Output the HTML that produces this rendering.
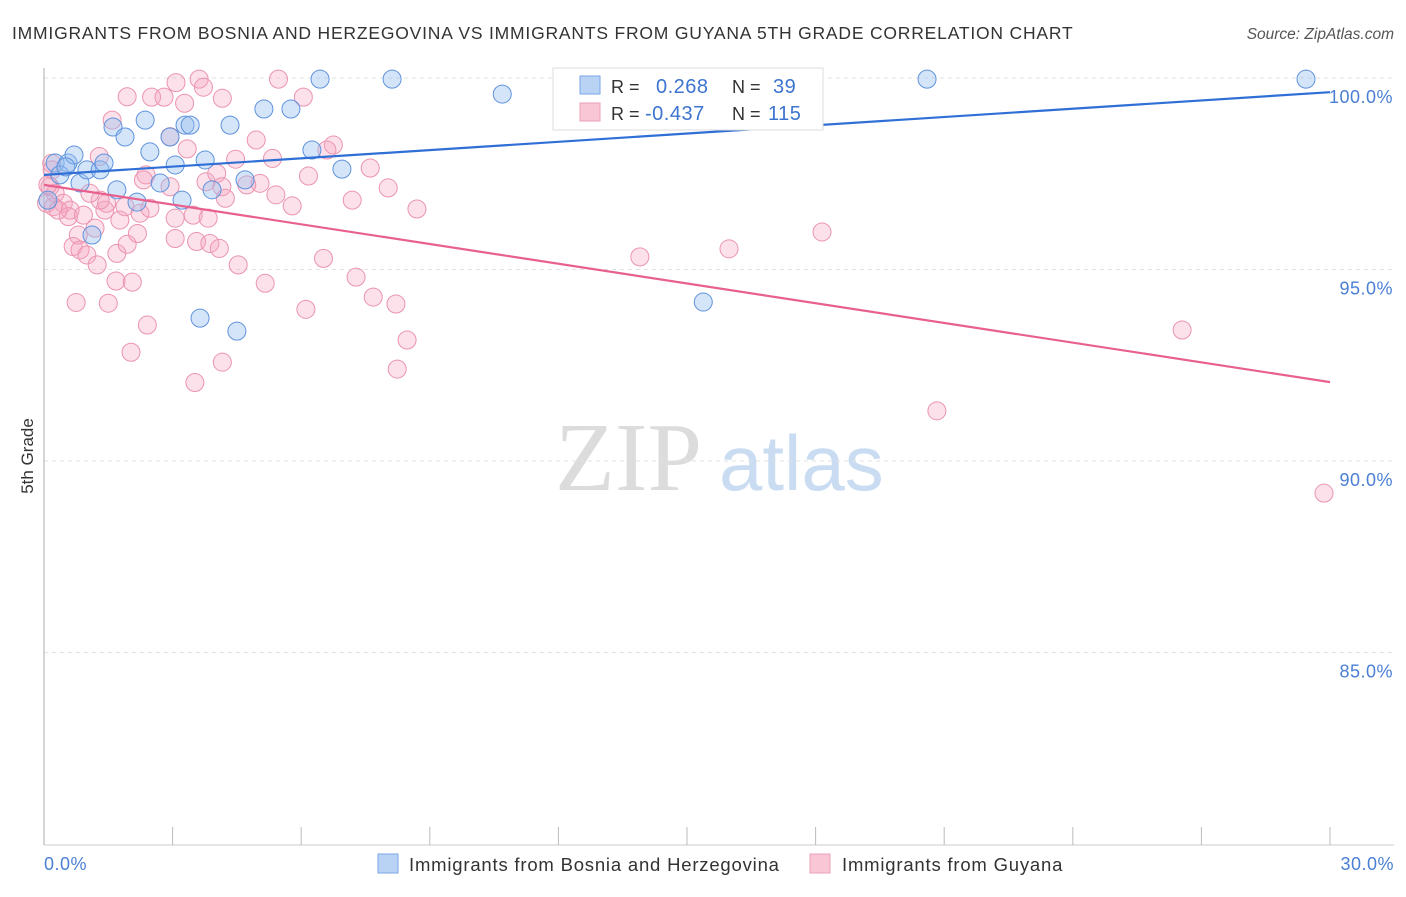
<!DOCTYPE html>
<html><head><meta charset="utf-8"><style>
body{margin:0;background:#fff;font-family:"Liberation Sans",sans-serif;}
</style></head><body>
<svg id="chart" width="1406" height="892" xmlns="http://www.w3.org/2000/svg" font-family="Liberation Sans, sans-serif">
<text x="12" y="39" font-size="17.5" letter-spacing="0.8" fill="#333">IMMIGRANTS FROM BOSNIA AND HERZEGOVINA VS IMMIGRANTS FROM GUYANA 5TH GRADE CORRELATION CHART</text>
<text x="1394" y="39" font-size="15.5" fill="#555" font-style="italic" text-anchor="end">Source: ZipAtlas.com</text>
<g>
<text x="555" y="490" font-size="98" font-family="Liberation Serif, serif" fill="#dcdcdc">ZIP</text>
<text x="719" y="490" font-size="78" fill="#c9dcf2">atlas</text>
</g>
<g id="grid"></g>
<line x1="44" y1="68" x2="44" y2="845" stroke="#bbb" stroke-width="1.2"/>
<line x1="44" y1="845" x2="1394" y2="845" stroke="#ccc" stroke-width="1"/>
<g id="xticks"></g>
<text transform="translate(33,456) rotate(-90)" font-size="17" fill="#333" text-anchor="middle">5th Grade</text>
<text x="44" y="870" font-size="18" letter-spacing="0.5" fill="#4a7fd4">0.0%</text>
<text x="1394" y="870" font-size="18" letter-spacing="0.5" fill="#4a7fd4" text-anchor="end">30.0%</text>
<g id="pts-pink"></g>
<g id="pts-blue"></g>
<g id="lines"></g>
<g>
<rect x="553" y="68" width="270" height="62" fill="#fff" stroke="#ddd"/>
<rect x="580" y="76" width="20" height="18" fill="#b9d3f5" stroke="#7aa6e6"/>
<rect x="580" y="103" width="20" height="18" fill="#f9c6d5" stroke="#eba0b8"/>
<text x="611" y="93" font-size="18" fill="#333">R =</text>
<text x="656" y="93" font-size="20" letter-spacing="0.5" fill="#3d74d0">0.268</text>
<text x="732" y="93" font-size="18" fill="#333">N =</text>
<text x="773" y="93" font-size="20" letter-spacing="0.5" fill="#3d74d0">39</text>
<text x="611" y="120" font-size="18" fill="#333">R =</text>
<text x="645" y="120" font-size="20" letter-spacing="0.5" fill="#3d74d0">-0.437</text>
<text x="732" y="120" font-size="18" fill="#333">N =</text>
<text x="768" y="120" font-size="20" letter-spacing="0.5" fill="#3d74d0">115</text>
</g>
<g>
<rect x="378" y="854" width="20" height="19" fill="#b9d3f5" stroke="#7aa6e6"/>
<text x="409" y="871" font-size="18.5" letter-spacing="0.8" fill="#333">Immigrants from Bosnia and Herzegovina</text>
</g>
<g>
<rect x="810" y="854" width="20" height="19" fill="#f9c6d5" stroke="#eba0b8"/>
<text x="842" y="871" font-size="18.5" letter-spacing="0.8" fill="#333">Immigrants from Guyana</text>
</g>
</svg>
<script>
const yTicks=[100,95,90,85];
const yTickLabels=["100.0%","95.0%","90.0%","85.0%"];
const xTicks=[0,3,6,9,12,15,18,21,24,27,30];
const blueX=[0.26,0.56,0.70,0.37,0.84,1.00,1.31,1.40,1.61,1.89,2.36,2.47,2.71,2.94,3.06,3.29,3.41,3.76,3.92,4.34,4.69,5.13,5.76,6.25,6.44,6.95,8.12,10.69,15.38,20.60,29.44,1.12,1.70,2.17,3.64,4.50,3.22,0.09,0.51];
const blueY=[97.78,97.78,97.99,97.47,97.26,97.60,97.60,97.78,98.72,98.46,98.90,98.07,97.26,98.46,97.73,98.77,98.77,97.86,97.08,98.77,97.34,99.19,99.19,98.12,99.97,97.62,99.97,99.58,94.15,99.97,99.97,95.90,97.08,96.76,93.73,93.39,96.81,96.81,97.68];
const pinkX=[1.94,2.51,2.80,3.08,3.62,3.72,4.16,3.28,5.47,6.05,1.59,4.95,3.34,2.94,6.75,6.17,4.47,5.33,1.29,2.38,3.78,4.03,4.15,4.23,5.04,5.41,5.79,4.73,0.18,0.14,0.26,0.45,0.61,0.57,0.92,1.42,1.46,1.31,1.77,2.24,2.47,3.06,3.48,3.83,2.94,2.32,0.80,1.19,0.68,0.84,1.00,1.24,1.70,1.94,2.18,3.06,3.56,3.87,4.09,4.53,5.16,6.52,1.68,2.06,0.75,1.50,2.41,6.11,2.03,4.16,3.52,0.06,0.22,1.07,1.89,6.60,7.19,7.28,7.61,7.68,8.03,8.24,8.21,8.47,8.70,13.90,15.98,18.15,20.83,26.55,29.86,0.09,0.19,0.33];
const pinkY=[99.51,99.50,99.50,99.88,99.97,99.76,99.47,99.34,99.97,99.50,98.90,98.38,98.15,98.47,98.25,97.44,97.88,97.90,97.95,97.47,97.29,97.51,97.16,96.86,97.25,96.95,96.66,97.21,97.77,97.16,96.99,96.73,96.55,96.38,96.42,96.55,96.73,96.81,96.29,96.47,96.60,96.34,96.42,96.34,97.16,97.34,95.90,96.08,95.60,95.51,95.38,95.12,95.42,95.66,95.94,95.81,95.73,95.68,95.55,95.12,94.64,95.29,94.70,94.67,94.14,94.12,93.55,93.96,92.84,92.58,92.05,96.73,96.64,96.99,96.64,98.12,96.81,94.80,97.65,94.28,97.13,92.40,94.10,93.16,96.58,95.33,95.54,95.98,91.31,93.42,89.16,97.21,97.60,96.55];
const blueTrend=[97.47,99.63];
const pinkTrend=[97.21,92.06];
const NS="http://www.w3.org/2000/svg";
const sx=v=>44+v/30*1286;
const sy=v=>78+(100-v)*38.3;
function mk(tag,attrs,parent){const e=document.createElementNS(NS,tag);for(const k in attrs)e.setAttribute(k,attrs[k]);parent.appendChild(e);return e;}
const grid=document.getElementById('grid');
yTicks.forEach((t,i)=>{
 const l=mk('line',{x1:44,x2:1394,y1:sy(t),y2:sy(t),stroke:'#e2e2e2','stroke-dasharray':'4,4'},grid);
 
 
 const tx=mk('text',{x:1393,y:sy(t)+25,'font-size':18,'letter-spacing':0.5,fill:'#4a7fd4','text-anchor':'end'},grid);
 tx.textContent=yTickLabels[i];
 
 
});
const xt=document.getElementById('xticks');
xTicks.forEach(t=>{
 const l=mk('line',{x1:sx(t),x2:sx(t),y1:827,y2:845,stroke:'#bbb'},xt);
 
 
});
const pp=document.getElementById('pts-pink');
pinkX.forEach((x,i)=>{
 const c=mk('circle',{cx:sx(x),cy:sy(pinkY[i]),r:9,fill:'rgba(245,165,190,0.33)',stroke:'#eb94af','stroke-width':1},pp);
 
 
});
const bp=document.getElementById('pts-blue');
blueX.forEach((x,i)=>{
 const c=mk('circle',{cx:sx(x),cy:sy(blueY[i]),r:9,fill:'rgba(150,190,240,0.4)',stroke:'#5f93dd','stroke-width':1},bp);
 
 
});
const lg=document.getElementById('lines');
const bl=mk('line',{x1:sx(0),y1:sy(blueTrend[0]),x2:sx(30),y2:sy(blueTrend[1]),stroke:'#2f6fd6','stroke-width':2.2},lg);


const pl=mk('line',{x1:sx(0),y1:sy(pinkTrend[0]),x2:sx(30),y2:sy(pinkTrend[1]),stroke:'#e8608e','stroke-width':2.2},lg);


</script>
</body></html>
